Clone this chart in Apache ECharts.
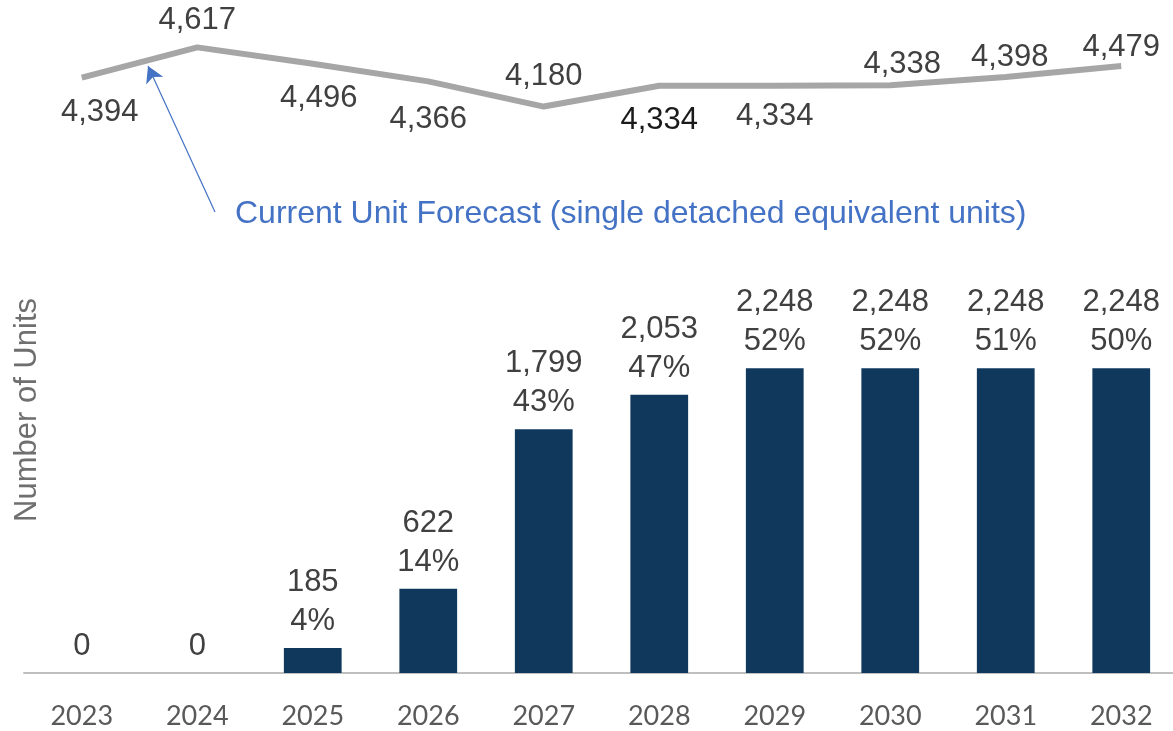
<!DOCTYPE html>
<html>
<head>
<meta charset="utf-8">
<script src="https://cdn.jsdelivr.net/npm/echarts@6/dist/echarts.min.js"></script>
<style>
  html, body { margin: 0; padding: 0; background: #fff; }
  #chart { width: 1173px; height: 731px; }
</style>
</head>
<body>
<div id="chart"></div>
<script>
// years on the x axis
const years = ['2023', '2024', '2025', '2026', '2027', '2028', '2029', '2030', '2031', '2032']
// units (bars)
const units = [0, 0, 185, 622, 1799, 2053, 2248, 2248, 2248, 2248]
// share of forecast, shown under the bar value
const shares = ['', '', '4%', '14%', '43%', '47%', '52%', '52%', '51%', '50%']
// current unit forecast (grey line)
const forecast = [4394, 4617, 4496, 4366, 4180, 4334, 4334, 4338, 4398, 4479]
// which side of the line each forecast label sits
const forecastSide = ['bottom', 'top', 'bottom', 'bottom', 'top', 'bottom', 'bottom', 'top', 'top', 'top']

const labelFont = 'Liberation Sans, Arial, sans-serif'
const fmt = v => v.toLocaleString('en-US')

// small nudges so labels sit where the original placed them
const labelShift = [[18, 4], [0, 4], [6, 4], [0, 8], [0, 0], [0, 4], [0, 0], [12, 10], [4, 11], [0, 12]]

const lineData = forecast.map((v, i) => ({
  value: v,
  label: {
    position: forecastSide[i],
    offset: labelShift[i],
    color: i === 5 ? '#1a1a1a' : '#404040'
  }
}))

const chart = echarts.init(document.getElementById('chart'))
chart.setOption({
  animation: false,
  grid: { left: 24, width: 1155, top: 9, bottom: 58, outerBoundsMode: 'none', containLabel: false },
  xAxis: {
    type: 'category',
    data: years,
    axisLine: { lineStyle: { color: '#bfbfbf', width: 2 } },
    axisTick: { show: false },
    axisLabel: {
      color: '#595959',
      fontFamily: 'Lato, sans-serif',
      fontSize: 27,
      margin: 30
    }
  },
  yAxis: {
    type: 'value',
    min: 0,
    max: 4900,
    show: false
  },
  graphic: [
    {
      type: 'text',
      left: 12,
      top: 298,
      rotation: Math.PI / 2,
      style: {
        text: 'Number of Units',
        fill: '#6f6f6f',
        font: '31px "Liberation Sans", Arial, sans-serif'
      }
    },
    {
      type: 'text',
      left: 235,
      top: 198,
      style: {
        text: 'Current Unit Forecast (single detached equivalent units)',
        fill: '#4472c4',
        font: '32px "Liberation Sans", Arial, sans-serif'
      }
    }
  ],
  series: [
    {
      type: 'bar',
      data: units,
      barWidth: '50%',
      itemStyle: { color: '#0f385c' },
      label: {
        show: true,
        position: 'top',
        distance: 7,
        color: '#404040',
        fontFamily: labelFont,
        fontSize: 31,
        lineHeight: 39,
        formatter: p => shares[p.dataIndex] ? fmt(p.value) + '\n' + shares[p.dataIndex] : fmt(p.value)
      }
    },
    {
      type: 'line',
      data: lineData,
      symbol: 'circle',
      symbolSize: 2,
      showSymbol: true,
      itemStyle: { color: 'rgba(0,0,0,0)', borderWidth: 0 },
      lineStyle: { color: '#a6a6a6', width: 6 },
      label: {
        show: true,
        distance: 14,
        fontFamily: labelFont,
        fontSize: 31,
        formatter: p => fmt(p.value)
      },
      markLine: {
        silent: true,
        symbol: ['none', 'arrow'],
        symbolSize: [14, 16],
        label: { show: false },
        lineStyle: { color: '#4472c4', width: 1.2, type: 'solid' },
        data: [[{ x: 215, y: 212 }, { x: 148, y: 66 }]]
      }
    }
  ]
})
</script>
</body>
</html>
